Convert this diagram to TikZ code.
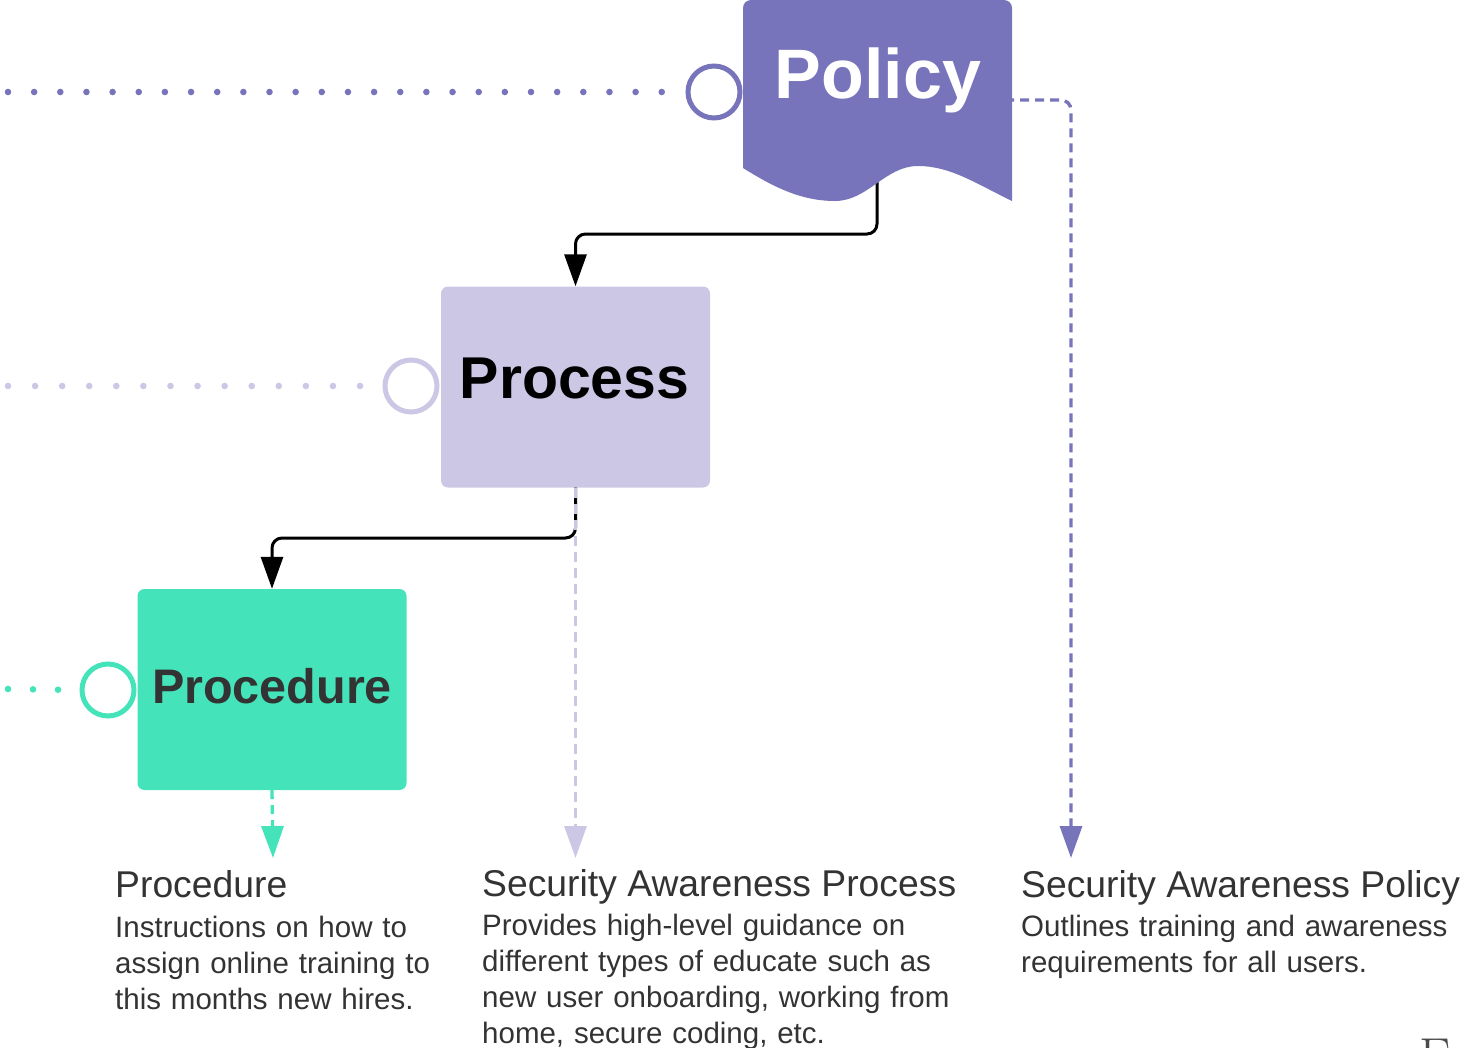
\documentclass[tikz,border=0pt]{standalone}
\usepackage{fontspec}
\setsansfont{Liberation Sans}
\usetikzlibrary{arrows.meta}

\definecolor{policyc}{HTML}{7874BB}
\definecolor{processc}{HTML}{CDC7E6}
\definecolor{procc}{HTML}{44E3B9}
\definecolor{txt}{HTML}{333333}
\definecolor{ghost}{HTML}{4A4A4A}

\begin{document}
\begin{tikzpicture}[x=1pt, y=-1pt,
  font=\sffamily,
  tip/.style={-{Triangle[length=32pt, width=22pt]}},
  flow/.style={tip, line width=3pt, black, rounded corners=10pt},
  dashlink/.style={tip, line width=3.3pt, dash pattern=on 9pt off 6pt, rounded corners=10pt},
  dotline/.style={line width=6.6pt, line cap=round, dash pattern=on 0pt off 26.15pt},
  port/.style={circle, draw=#1, line width=5pt, fill=white, minimum size=52pt, inner sep=0pt},
  card/.style={rectangle, fill=#1, rounded corners=7pt, minimum width=269pt, minimum height=201pt, inner sep=0pt},
  heading/.style={anchor=base, inner sep=0pt, font=\sffamily\bfseries\fontsize{#1}{#1}\selectfont},
  captitle/.style={anchor=base west, inner sep=0pt, text=txt, font=\sffamily\fontsize{37.3}{44}\selectfont},
  capbody/.style={anchor=base west, inner sep=0pt, text=txt, text width=480pt, align=left,
                  font=\sffamily\fontsize{29.5}{36}\selectfont},
]
\useasboundingbox (0,0) rectangle (1462,1047);
\clip (0,0) rectangle (1462,1047);

% anchor points
\coordinate (policy-out) at (877,150);
\coordinate (policy-side) at (1005,100);
\coordinate (policy-left) at (8,92);
\coordinate (process-left) at (8,386);
\coordinate (proc-left) at (8,689);

% boxes
\node[card=processc] (process) at (575.5,387) {};
\node[card=procc] (procedure) at (272,689.5) {};

% solid flow: policy -> process -> procedure
\draw[flow] (policy-out) -- (877,234) -- (575.5,234) -- (process.north);
\draw[flow] (process.south) -- (575.5,538) -- (272,538) -- (procedure.north);

% policy document shape with wavy bottom
\fill[policyc] (743,168) -- (743,8) arc[start angle=180, end angle=270, radius=8]
  -- (1004,0) arc[start angle=270, end angle=360, radius=8]
  -- (1012,201)
  .. controls (975,183) and (950,166) .. (918,166)
  .. controls (885,166) and (868,201) .. (835,201)
  .. controls (800,201) and (772,186) .. (743,168) -- cycle;

% titles inside the shapes
\node[heading=70, text=white] (policy-label) at (878,98) {Policy};
\node[heading=59, text=black] (process-label) at (574.5,398) {Process};
\node[heading=48.5, text=txt] (procedure-label) at (272,703) {Procedure};

% ports on the left of each shape
\node[port=policyc] (policy-port) at (714,92) {};
\node[port=processc] (process-port) at (411,386) {};
\node[port=procc] (proc-port) at (108,690) {};

% dotted feeds into the ports
\draw[dotline, policyc] (policy-left) -- (policy-port.west);
\draw[dotline, processc, dash pattern=on 0pt off 27.08pt] (process-left) -- (process-port.west);
\draw[dotline, procc, dash pattern=on 0pt off 25pt] (proc-left) -- (proc-port.west);

% dashed links down to the descriptions
\coordinate (policy-note) at (1071,858);
\coordinate (process-note) at (575.5,858);
\coordinate (proc-note) at (273,858);
\draw[dashlink, policyc] (policy-side) -- (1071,100) -- (policy-note);
\draw[dashlink, processc, dash pattern=on 10pt off 6pt] (process.south) -- (process-note);
\draw[dashlink, procc] (procedure.south) -- (proc-note);

% descriptions
\node[captitle] (proc-title) at (115,897) {Procedure};
\node[capbody] (proc-body) at (115,937) {Instructions on how to\\assign online training to\\this months new hires.};

\node[captitle] (process-title) at (482,896) {Security Awareness Process};
\node[capbody] (process-body) at (482,935.5) {Provides high-level guidance on\\different types of educate such as\\new user onboarding, working from\\home, secure coding, etc.};

\node[captitle] (policy-title) at (1021,897) {Security Awareness Policy};
\node[capbody] (policy-body) at (1021,936.5) {Outlines training and awareness\\requirements for all users.};

% letter cut off at the lower edge
\node[anchor=base west, inner sep=0pt, text=ghost, font=\rmfamily\fontsize{52}{52}\selectfont] (edge-letter) at (1419,1074) {F};
\end{tikzpicture}
\end{document}
